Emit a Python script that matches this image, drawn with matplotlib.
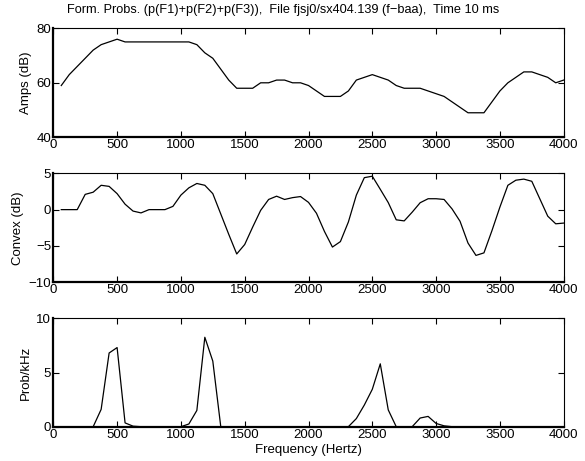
import matplotlib
matplotlib.use("Agg")
import matplotlib.pyplot as plt

plt.rcParams["font.family"] = ["Liberation Sans", "DejaVu Sans"]
plt.rcParams["font.size"] = 9.5

# frequency bins (Hz), 62.5 Hz spacing
freq = [62.5, 125, 187.5, 250, 312.5, 375, 437.5, 500, 562.5, 625, 687.5, 750,
        812.5, 875, 937.5, 1000, 1062.5, 1125, 1187.5, 1250, 1312.5, 1375, 1437.5,
        1500, 1562.5, 1625, 1687.5, 1750, 1812.5, 1875, 1937.5, 2000, 2062.5, 2125,
        2187.5, 2250, 2312.5, 2375, 2437.5, 2500, 2562.5, 2625, 2687.5, 2750, 2812.5,
        2875, 2937.5, 3000, 3062.5, 3125, 3187.5, 3250, 3312.5, 3375, 3437.5, 3500,
        3562.5, 3625, 3687.5, 3750, 3812.5, 3875, 3937.5, 4000]

amps = [59, 63, 66, 69, 72, 74, 75, 76, 75, 75, 75, 75, 75, 75, 75, 75, 75, 74,
        71, 69, 65, 61, 58, 58, 58, 60, 60, 61, 61, 60, 60, 59, 57, 55, 55, 55,
        57, 61, 62, 63, 62, 61, 59, 58, 58, 58, 57, 56, 55, 53, 51, 49, 49, 49,
        53, 57, 60, 62, 64, 64, 63, 62, 60, 61]

convex = [0, 0, 0, 2.1, 2.4, 3.35, 3.2, 2.2, 0.75, -0.2, -0.45, 0, 0, 0, 0.45,
          2.0, 3.0, 3.6, 3.35, 2.2, -0.6, -3.4, -6.1, -4.8, -2.4, -0.1, 1.4, 1.85,
          1.4, 1.65, 1.8, 1.0, -0.5, -3.0, -5.15, -4.4, -1.7, 2.0, 4.4, 4.6, 2.8,
          0.97, -1.4, -1.55, -0.35, 0.95, 1.5, 1.5, 1.4, 0.1, -1.6, -4.6, -6.3,
          -5.95, -2.9, 0.35, 3.35, 4.05, 4.2, 3.9, 1.5, -0.9, -1.95, -1.85]

prob = [0, 0, 0, 0, 0, 1.6, 6.8, 7.3, 0.35, 0.05, 0, 0, 0, 0, 0, 0, 0.25, 1.5,
        8.25, 6.05, 0, 0, 0, 0, 0, 0, 0, 0, 0, 0, 0, 0, 0, 0, 0, 0, 0, 0.75,
        2.0, 3.45, 5.8, 1.55, 0, 0, 0, 0.8, 0.95, 0.3, 0.08, 0, 0, 0, 0, 0, 0,
        0, 0, 0, 0, 0, 0, 0, 0, 0]

xticks = [0, 500, 1000, 1500, 2000, 2500, 3000, 3500, 4000]

fig = plt.figure(figsize=(5.85, 4.61), dpi=100)
W, H = 585.0, 461.0
left, right = 53.3 / W, 563.7 / W
boxes = [(28.3, 137.3), (173.3, 282.3), (318.3, 426.7)]
panels = [
    (amps, (40, 80), [40, 60, 80], "Amps (dB)"),
    (convex, (-10, 5), [-10, -5, 0, 5], "Convex (dB)"),
    (prob, (0, 10), [0, 5, 10], "Prob/kHz"),
]

axes = []
for (top, bot), (vals, ylim, yticks, ylabel) in zip(boxes, panels):
    ax = fig.add_axes([left, 1 - bot / H, right - left, (bot - top) / H])
    ax.plot(freq, vals, color="black", lw=0.9)
    ax.set_xlim(0, 4000)
    ax.set_ylim(*ylim)
    ax.set_xticks(xticks)
    ax.set_yticks(yticks)
    ax.set_ylabel(ylabel, fontsize=9.5, labelpad=3)
    ax.tick_params(direction="in", top=True, right=True, length=4, width=0.8,
                   labelsize=9.5, pad=1.5)
    for side in ("left", "bottom"):
        ax.spines[side].set_linewidth(1.6)
    for side in ("top", "right"):
        ax.spines[side].set_linewidth(0.8)
    axes.append(ax)

axes[0].set_title("Form. Probs. (p(F1)+p(F2)+p(F3)),  File fjsj0/sx404.139 (f\u2212baa),  Time 10 ms",
                  fontsize=9.2, pad=11, x=0.45)
axes[2].set_xlabel("Frequency (Hertz)", fontsize=9.5, labelpad=2)

fig.savefig("out.png", dpi=100)
